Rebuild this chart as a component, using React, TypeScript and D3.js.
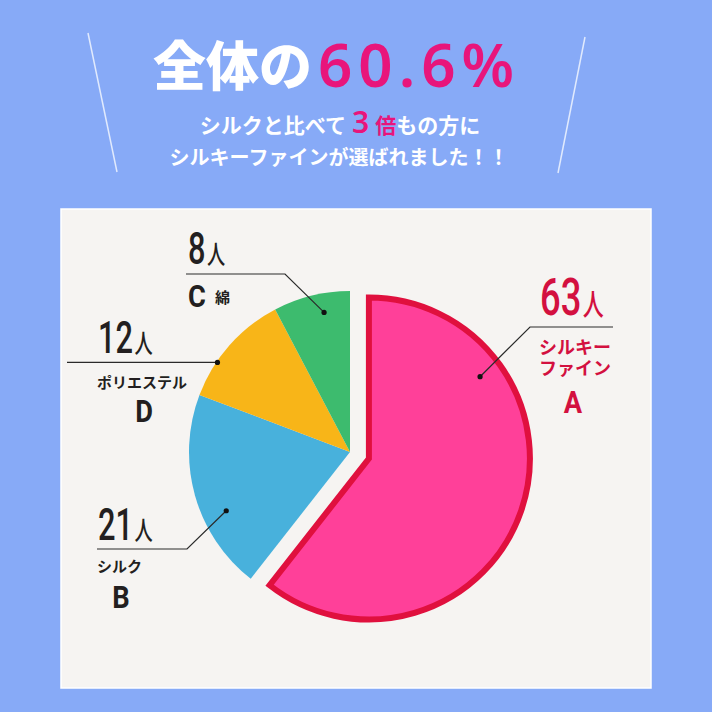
import React from 'react';
import * as d3 from 'd3';

// ---- data ----
const letters = ['A', 'B', 'D', 'C'];
const names = ['シルキーファイン', 'シルク', 'ポリエステル', '綿'];
const counts = [63, 21, 12, 8];
const unit = '人';
const headline = '全体の';
const headlineValue = '60.6%';
const subtitle1a = 'シルクと比べて';
const subtitle1b = '3';
const subtitle1c = '倍';
const subtitle1d = 'もの方に';
const subtitle2 = 'シルキーファインが選ばれました！！';

const sliceColors = ['#ff4099', '#48b1dc', '#f8b518', '#3dbb6e'];

const W = 712;
const H = 712;
const JP = "'Noto Sans CJK JP', 'Noto Sans', sans-serif";
const NUM = "Roboto, 'Noto Sans', sans-serif";

export default function App() {
  const cx = 350;
  const cy = 452;
  const r = 161;
  const explode = 20;

  const pie = d3.pie<number>().sort(null).value((d) => d)(counts);
  const arc = d3.arc<d3.PieArcDatum<number>>().innerRadius(0).outerRadius(r);

  const offsets = pie.map((p, i) => {
    if (i !== 0) return [0, 0];
    const mid = (p.startAngle + p.endAngle) / 2;
    return [Math.sin(mid) * explode, -Math.cos(mid) * explode];
  });

  // annotation dot placement (fraction along slice, radius)
  const dotLayout = [
    { t: 0.246, rd: 138 },
    { t: 0.365, rd: 137 },
    { t: 0.32, rd: 160 },
    { t: 0.62, rd: 142 },
  ];
  const dots = pie.map((p, i) => {
    const a = p.startAngle + dotLayout[i].t * (p.endAngle - p.startAngle);
    return [
      cx + offsets[i][0] + Math.sin(a) * dotLayout[i].rd,
      cy + offsets[i][1] - Math.cos(a) * dotLayout[i].rd,
    ];
  });

  const dark = '#231f20';
  const red = '#d3103f';
  const line = d3.line();

  const leaders = [
    [dots[0], [530, 327], [613, 327]],
    [dots[1], [187, 549], [97, 549]],
    [dots[2], [67, dots[2][1]]],
    [dots[3], [285, 274], [186, 274]],
  ] as [number, number][][];

  const countText = (i: number, x: number, y: number, size: number, kSize: number, color: string) => (
    <text
      transform={`translate(${x},${y}) scale(0.7,1)`}
      fontFamily={NUM}
      fontWeight={500}
      fontSize={size}
      fill={color}
    >
      {counts[i]}
      <tspan fontFamily={JP} fontWeight={500} fontSize={kSize} dx={2}>
        {unit}
      </tspan>
    </text>
  );

  const letterText = (i: number, x: number, y: number, color: string, anchor = 'middle') => (
    <text
      transform={`translate(${x},${y}) scale(0.88,1)`}
      textAnchor={anchor}
      fontFamily={NUM}
      fontWeight={700}
      fontSize={31}
      fill={color}
    >
      {letters[i]}
    </text>
  );

  return (
    <svg
      width={W}
      height={H}
      viewBox={`0 0 ${W} ${H}`}
      style={{ position: 'absolute', left: 0, top: 0, display: 'block' }}
    >
      <rect x={0} y={0} width={W} height={H} fill="#87aaf7" />

      {/* decorative lines */}
      <line x1={88} y1={33} x2={117} y2={172} stroke="#ffffff" strokeOpacity={0.75} strokeWidth={1.5} />
      <line x1={585} y1={37} x2={558} y2={173} stroke="#ffffff" strokeOpacity={0.75} strokeWidth={1.5} />

      {/* headline */}
      <text x={153} y={86} fontFamily={JP} fontWeight={900} fontSize={53} fill="#ffffff">
        {headline}
      </text>
      <text
        x={318}
        y={87}
        fontFamily="'Noto Sans', sans-serif"
        fontWeight={600}
        fontSize={60}
        letterSpacing={6}
        fill="#e8157b"
      >
        {headlineValue}
      </text>

      <text x={340} y={133} textAnchor="middle" fontFamily={JP} fontWeight={700} fontSize={21} fill="#ffffff">
        {subtitle1a}
        <tspan dx={6} fill="#e8157b" fontSize={30} fontFamily="'Noto Sans', sans-serif" fontWeight={600}>
          {subtitle1b}
        </tspan>
        <tspan dx={6} fill="#e8157b">
          {subtitle1c}
        </tspan>
        <tspan>{subtitle1d}</tspan>
      </text>
      <text x={339} y={165} textAnchor="middle" fontFamily={JP} fontWeight={700} fontSize={20} fill="#ffffff">
        {subtitle2}
      </text>

      {/* panel */}
      <rect x={61} y={209} width={590} height={479} fill="#f6f4f2" stroke="#ffffff" strokeWidth={1.5} />

      {/* pie */}
      {pie.map((p, i) => (
        <path
          key={i}
          d={arc(p) || ''}
          transform={`translate(${cx + offsets[i][0]},${cy + offsets[i][1]})`}
          fill={sliceColors[i]}
          stroke={i === 0 ? '#e0103e' : 'none'}
          strokeWidth={i === 0 ? 6 : 0}
          strokeLinejoin="miter"
        />
      ))}

      {/* leaders */}
      {leaders.map((pts, i) => (
        <g key={i}>
          <path d={line(pts) || ''} fill="none" stroke="#2a2a2a" strokeWidth={1.2} />
          <circle cx={dots[i][0]} cy={dots[i][1]} r={2.6} fill="#111" />
        </g>
      ))}

      {/* label A */}
      {countText(0, 540, 315, 52, 30, red)}
      <text textAnchor="middle" fontFamily={JP} fontWeight={700} fontSize={18} fill={red}>
        <tspan x={575} y={354}>{names[0].slice(0, 4)}</tspan>
        <tspan x={575} y={375}>{names[0].slice(4)}</tspan>
      </text>
      {letterText(0, 573, 413, red)}

      {/* label B */}
      {countText(1, 98, 540, 44, 26, dark)}
      <text x={97} y={572} fontFamily={JP} fontWeight={700} fontSize={15} fill={dark}>
        {names[1]}
      </text>
      {letterText(1, 121, 608, dark)}

      {/* label D */}
      {countText(2, 98, 353, 44, 26, dark)}
      <text x={97} y={388} fontFamily={JP} fontWeight={700} fontSize={15} fill={dark}>
        {names[2]}
      </text>
      {letterText(2, 144, 422, dark)}

      {/* label C */}
      {countText(3, 188, 264, 44, 26, dark)}
      {letterText(3, 188, 307, dark, 'start')}
      <text x={215} y={303} fontFamily={JP} fontWeight={700} fontSize={15} fill={dark}>
        {names[3]}
      </text>
    </svg>
  );
}
